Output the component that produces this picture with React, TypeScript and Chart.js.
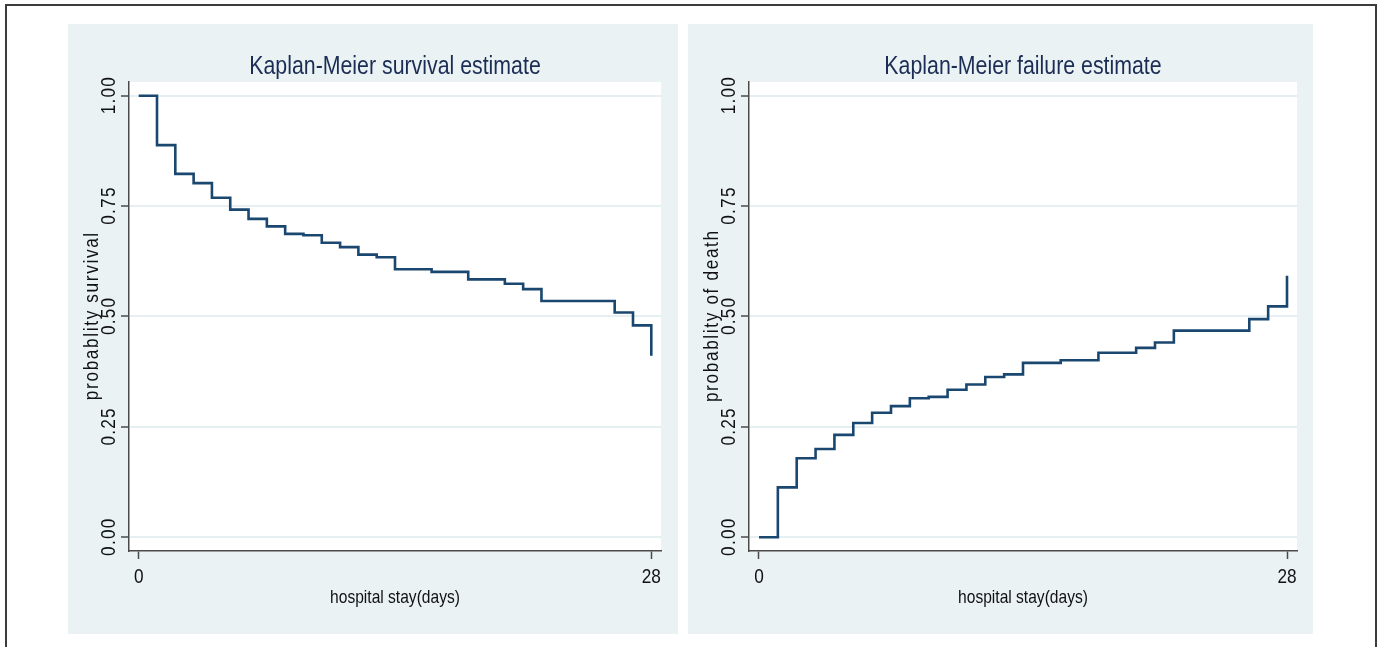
import React, { useEffect, useRef } from "react";
import { Chart, registerables } from "chart.js";

Chart.register(...registerables);

// ---- data ----
const eventTimes = [0, 1, 2, 3, 4, 5, 6, 7, 8, 9, 10, 11, 12, 13, 14, 16, 18, 20, 21, 22, 26, 27, 28];
const survivalValues = [1.0, 0.888, 0.823, 0.802, 0.769, 0.742, 0.721, 0.704, 0.687, 0.684, 0.667, 0.657, 0.640, 0.634, 0.607, 0.601, 0.584, 0.574, 0.562, 0.535, 0.509, 0.480, 0.411];
const failureValues = [0.0, 0.113, 0.179, 0.200, 0.232, 0.259, 0.282, 0.297, 0.315, 0.318, 0.334, 0.346, 0.363, 0.369, 0.395, 0.401, 0.418, 0.429, 0.441, 0.468, 0.494, 0.523, 0.592];
const yTickValues = [0, 0.25, 0.5, 0.75, 1];
const yTickLabels = ["0.00", "0.25", "0.50", "0.75", "1.00"];
const xTickValues = [0, 28];
const xTickLabels = ["0", "28"];
const xAxisTitle = "hospital stay(days)";

const FONT = '"Liberation Sans", Arial, sans-serif';
const NARROW = 0.82; // horizontal squeeze to mimic a narrow sans face
const BG = "#eaf2f3";
const LINE = "#1a476f";
const AXIS = "#4a4a4a";

function drawText(
  ctx: CanvasRenderingContext2D,
  text: string,
  x: number,
  y: number,
  size: number,
  rotate: boolean,
  spacing: number
) {
  ctx.save();
  ctx.translate(x, y);
  if (rotate) ctx.rotate(-Math.PI / 2);
  ctx.scale(NARROW, 1);
  ctx.font = `${size}px ${FONT}`;
  (ctx as any).letterSpacing = `${spacing}px`;
  ctx.textAlign = "center";
  ctx.textBaseline = "alphabetic";
  ctx.fillText(text, spacing / 2, 0);
  ctx.restore();
}

type PanelProps = {
  title: string;
  yTitle: string;
  values: number[];
  left: number;
  top: number;
  width: number;
  height: number;
  padRight: number;
};

function Panel({ title, yTitle, values, left, top, width, height, padRight }: PanelProps) {
  const ref = useRef<HTMLCanvasElement | null>(null);

  useEffect(() => {
    if (!ref.current) return;
    const textPlugin = {
      id: "kmText",
      beforeDraw(chart: any) {
        const { ctx, chartArea: a } = chart;
        ctx.save();
        ctx.fillStyle = "#ffffff";
        ctx.fillRect(a.left, a.top, a.right - a.left, a.bottom - a.top);
        ctx.restore();
      },
      afterDraw(chart: any) {
        const { ctx, chartArea: a } = chart;
        const xs = chart.scales.x;
        const ys = chart.scales.y;
        const cx = (a.left + a.right) / 2;
        const cy = (a.top + a.bottom) / 2;
        ctx.save();

        // title
        ctx.fillStyle = "#1c2d55";
        drawText(ctx, title, cx, 49.5, 26, false, 0);

        // y tick labels (rotated)
        ctx.fillStyle = "#111111";
        yTickValues.forEach((v, i) => {
          drawText(ctx, yTickLabels[i], a.left - 14.5, ys.getPixelForValue(v), 21, true, 1.5);
        });

        // y axis title (rotated, overlapping the labels as in the reference)
        drawText(ctx, yTitle, a.left - 31, cy, 21, true, 2);

        // x tick labels
        xTickValues.forEach((v, i) => {
          drawText(ctx, xTickLabels[i], xs.getPixelForValue(v), a.bottom + 32, 21, false, 0);
        });

        // x axis title
        drawText(ctx, xAxisTitle, cx, a.bottom + 52, 19, false, 0);
        ctx.restore();
      },
    };

    const chart = new Chart(ref.current, {
      type: "line",
      data: {
        datasets: [
          {
            data: eventTimes.map((t, i) => ({ x: t, y: values[i] })),
            borderColor: LINE,
            borderWidth: 2.6,
            pointRadius: 0,
            stepped: "before",
            fill: false,
          },
        ],
      },
      options: {
        responsive: false,
        animation: false,
        events: [],
        layout: { padding: { left: 1, top: 58, right: padRight, bottom: 23 } },
        plugins: { legend: { display: false }, title: { display: false }, tooltip: { enabled: false } },
        scales: {
          x: {
            type: "linear",
            min: -0.53,
            max: 28.53,
            afterBuildTicks: (s: any) => {
              s.ticks = xTickValues.map((v) => ({ value: v }));
            },
            afterFit: (s: any) => {
              s.height = 60;
            },
            ticks: { display: false },
            grid: {
              display: true,
              drawOnChartArea: false,
              drawTicks: true,
              tickLength: 8,
              tickColor: AXIS,
              tickWidth: 1.5,
            },
            border: { display: true, color: AXIS, width: 1.5 },
          },
          y: {
            type: "linear",
            min: -0.031,
            max: 1.031,
            afterBuildTicks: (s: any) => {
              s.ticks = yTickValues.map((v) => ({ value: v }));
            },
            afterFit: (s: any) => {
              s.width = 60;
            },
            ticks: { display: false },
            grid: {
              display: true,
              drawOnChartArea: true,
              color: "#e6eff1",
              lineWidth: 2,
              drawTicks: true,
              tickLength: 8,
              tickColor: AXIS,
              tickWidth: 1.5,
            },
            border: { display: true, color: AXIS, width: 1.5 },
          },
        },
      } as any,
      plugins: [textPlugin],
    });
    return () => chart.destroy();
  }, []);

  return (
    <div style={{ position: "absolute", left, top, width, height, background: BG }}>
      <canvas ref={ref} width={width} height={height} style={{ display: "block", width, height }} />
    </div>
  );
}

export default function App() {
  return (
    <div
      style={{
        position: "fixed",
        left: 0,
        top: 0,
        width: 1378,
        height: 647,
        overflow: "hidden",
        background: "#ffffff",
      }}
    >
      <div
        style={{
          position: "absolute",
          left: 5,
          top: 4,
          width: 1368,
          height: 700,
          border: "2px solid #3c3c3c",
        }}
      />
      <Panel
        title="Kaplan-Meier survival estimate"
        yTitle="probablity survival"
        values={survivalValues}
        left={68}
        top={24}
        width={610}
        height={610}
        padRight={17}
      />
      <Panel
        title="Kaplan-Meier failure estimate"
        yTitle="probablity of death"
        values={failureValues}
        left={688}
        top={24}
        width={625}
        height={610}
        padRight={16}
      />
    </div>
  );
}
